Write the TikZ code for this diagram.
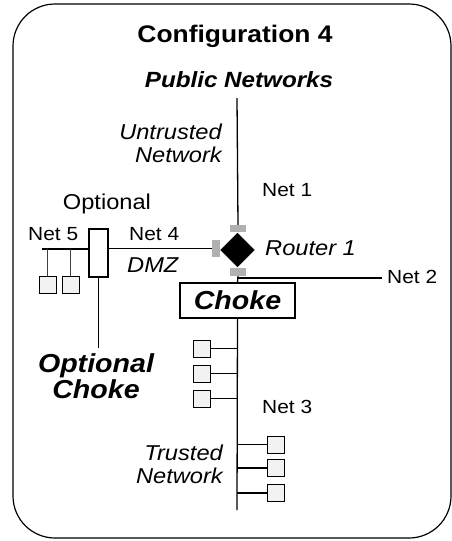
\documentclass[tikz,border=0pt]{standalone}
\usepackage{fontspec}
\setmainfont{Liberation Sans}[FakeStretch=1.1]
\usetikzlibrary{shapes.geometric}
\definecolor{hostfill}{HTML}{F2F2F2}
\definecolor{tabgray}{HTML}{B0B0B0}
\tikzset{
  wire/.style={line width=1.3pt},
  host/.style={draw, fill=hostfill, line width=1pt, minimum width=17pt, minimum height=17pt, inner sep=0pt},
  tabbox/.style={fill=tabgray, draw=none, inner sep=0pt},
  lbl/.style={inner sep=0pt, font=\fontsize{21.5}{23}\selectfont\itshape},
  netlbl/.style={inner sep=0pt, font=\fontsize{19}{22}\selectfont},
  biglbl/.style={inner sep=0pt, font=\fontsize{26}{23}\selectfont\bfseries\itshape},
}
\begin{document}
\begin{tikzpicture}[x=1pt,y=-1pt]
\useasboundingbox (0,0) rectangle (452,541);
% frame
\draw[line width=1.2pt, rounded corners=42pt] (13,4) rectangle (451,538);
% titles
\node[inner sep=0pt, anchor=base, font=\fontsize{24}{26}\selectfont\bfseries] (title) at (235,42) {Configuration 4};
\node[inner sep=0pt, anchor=base, font=\fontsize{22}{24}\selectfont\bfseries\itshape] (public) at (239,87) {Public Networks};
% spine coordinates
\coordinate (spinetop) at (237,98);
\coordinate (spinebot) at (237,510);
% router and tabs
\node[diamond, fill=black, draw=black, inner sep=0pt, minimum width=34pt, minimum height=34pt] (router) at (237.5,250) {};
\node[tabbox, minimum width=16pt, minimum height=7pt] (tabT) at (238,228.5) {};
\node[tabbox, minimum width=16pt, minimum height=8pt] (tabB) at (238,272) {};
\node[tabbox, minimum width=8pt, minimum height=17pt] (tabL) at (216,248.5) {};
% choke
\node[draw, line width=1.2pt, minimum width=115pt, minimum height=35pt, inner sep=0pt, font=\fontsize{26}{28}\selectfont\bfseries\itshape] (choke) at (237.5,300.5) {Choke};
% optional choke box
\node[draw, line width=1.2pt, minimum width=19pt, minimum height=48pt, inner sep=0pt] (optbox) at (98.5,253) {};
% spine
\draw[wire] (spinetop) -- (tabT.north);
\draw[wire] (tabB.south) -- (choke.north);
\draw[wire] (choke.south) -- (spinebot);
% net 2
\coordinate (n2end) at (382,278);
\draw[wire] (n2end -| spinetop) -- (n2end);
% net 4
\draw[wire] (optbox.east |- tabL.west) -- (tabL.west);
% net 5
\coordinate (n5end) at (42,249);
\draw[wire] (n5end) -- (n5end -| optbox.west);
\node[host] (h5a) at (47.5,284.5) {};
\node[host] (h5b) at (70.5,284.5) {};
\draw[wire, black!75] (h5a.north |- n5end) -- (h5a.north);
\draw[wire, black!75] (h5b.north |- n5end) -- (h5b.north);
% optional choke drop
\coordinate (ocend) at (98.5,348);
\draw[wire] (optbox.south) -- (ocend);
% net 3 hosts left
\node[host] (l1) at (202,348.5) {};
\node[host] (l2) at (202,373.5) {};
\node[host] (l3) at (202,398.5) {};
\foreach \h in {l1,l2,l3} \draw[wire] (\h.east) -- (\h.east -| spinebot);
% trusted hosts right
\node[host] (r1) at (275.5,444.5) {};
\node[host] (r2) at (275.5,468) {};
\node[host] (r3) at (275.5,493) {};
\foreach \h in {r1,r2,r3} \draw[wire] (\h.west -| spinebot) -- (\h.west);
% labels
\node[lbl, anchor=base east, align=right] (untrusted) at (222,162) {Untrusted\\Network};
\node[netlbl, anchor=base west] (net1) at (262,196) {Net 1};
\node[inner sep=0pt, font=\fontsize{21.5}{23}\selectfont, anchor=base west] (optlbl) at (62.7,209) {Optional};
\node[netlbl, anchor=base west] (net5) at (28,240) {Net 5};
\node[netlbl, anchor=base west] (net4) at (129,240) {Net 4};
\node[lbl, anchor=base west] (dmz) at (127,272) {DMZ};
\node[lbl, anchor=base west] (r1lbl) at (265,255) {Router 1};
\node[netlbl, anchor=base west] (net2) at (387,283) {Net 2};
\node[biglbl, anchor=base, align=center] (optchoke) at (96,398) {Optional\\Choke};
\node[netlbl, anchor=base west] (net3) at (262,413) {Net 3};
\node[lbl, anchor=base east, align=right] (trusted) at (223,483) {Trusted\\Network};
\end{tikzpicture}
\end{document}
